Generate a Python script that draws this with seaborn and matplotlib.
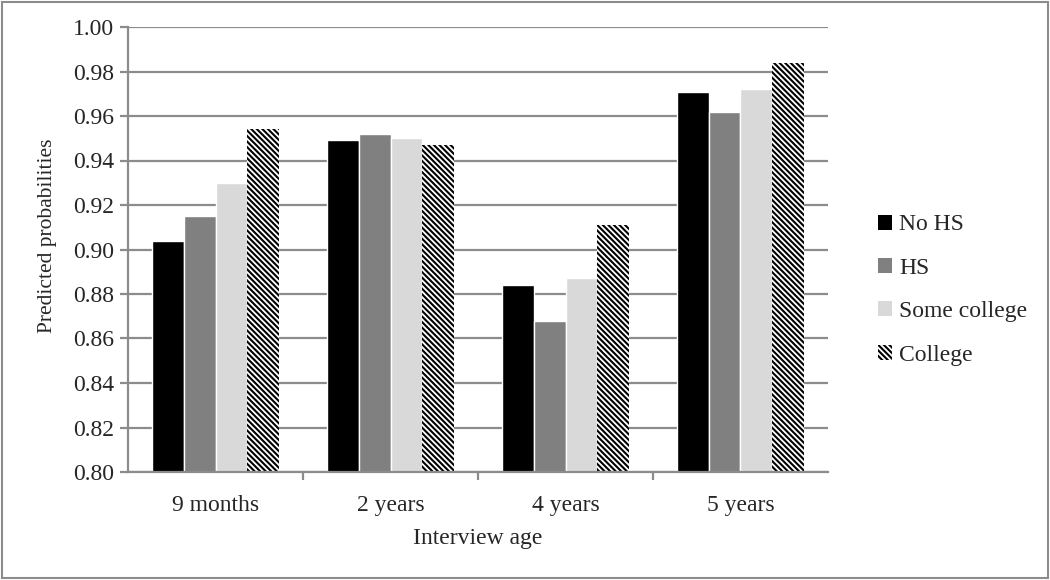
import matplotlib
matplotlib.use("Agg")
import matplotlib.pyplot as plt
from matplotlib.patches import Patch
import seaborn as sns
import pandas as pd

ages = ["9 months", "2 years", "4 years", "5 years"]
groups = ["No HS", "HS", "Some college", "College"]
no_hs = [0.904, 0.949, 0.884, 0.971]
hs = [0.915, 0.952, 0.868, 0.962]
some_college = [0.930, 0.950, 0.887, 0.972]
college = [0.954, 0.947, 0.911, 0.984]

df = pd.DataFrame({
    "age": ages * 4,
    "group": [g for g in groups for _ in ages],
    "prob": no_hs + hs + some_college + college,
})

sns.set_style("white")
plt.rcParams["font.family"] = ["Liberation Serif", "DejaVu Serif"]
plt.rcParams["hatch.linewidth"] = 1.5

colors = {"No HS": "#000000", "HS": "#808080", "Some college": "#d9d9d9", "College": "white"}
grid_c = "#8c8c8c"
hatch = "\\" * 6

fig = plt.figure(figsize=(10.5, 5.8), dpi=100)
ax = fig.add_axes([128 / 1050, 1 - 472 / 580, 700 / 1050, 445 / 580])

sns.barplot(data=df, x="age", y="prob", hue="group", order=ages, hue_order=groups,
            palette=colors, width=0.73, ax=ax, saturation=1, legend=False)

# hatch the college bars
for bar in ax.containers[3]:
    bar.set_hatch(hatch)
    bar.set_edgecolor("black")
    bar.set_linewidth(0)

ax.set_ylim(0.80, 1.00)
ax.set_yticks([0.80 + 0.02 * i for i in range(11)])
ax.set_yticklabels([f"{0.80 + 0.02 * i:.2f}" for i in range(11)], fontsize=17)
ax.set_xlim(-0.5, 3.5)
ax.yaxis.grid(True, color=grid_c, lw=1.6)
ax.set_axisbelow(True)
for s in ["top", "right"]:
    ax.spines[s].set_visible(False)
for s in ["left", "bottom"]:
    ax.spines[s].set_color(grid_c)
    ax.spines[s].set_linewidth(1.6)

ax.tick_params(axis="y", left=True, length=6, color=grid_c, width=1.6, pad=4)
ax.set_xticks(range(4))
ax.set_xticklabels(ages, fontsize=17)
ax.tick_params(axis="x", bottom=False, pad=13)
ax.set_xticks([0.5, 1.5, 2.5], minor=True)
ax.tick_params(axis="x", which="minor", bottom=True, length=6, color=grid_c, width=1.6)

ax.set_xlabel("Interview age", fontsize=17, labelpad=9)
ax.set_ylabel("Predicted probabilities", fontsize=15.5)
ax.yaxis.set_label_coords(-0.102, 0.53)

handles = [Patch(facecolor=colors[g], edgecolor="black" if g == "College" else colors[g],
                 hatch=hatch if g == "College" else None, lw=0) for g in groups]
fig.legend(handles, groups, loc="center left", bbox_to_anchor=(866 / 1050, 1 - 290 / 580),
           frameon=False, fontsize=17, handlelength=0.6, handleheight=0.6,
           handletextpad=0.3, labelspacing=0.95, borderpad=0)

border = plt.Rectangle((0.002, 0.003), 0.996, 0.994, transform=fig.transFigure,
                       fill=False, edgecolor="#8c8c8c", lw=1.5)
fig.patches.append(border)

fig.savefig("out.png", dpi=100)
